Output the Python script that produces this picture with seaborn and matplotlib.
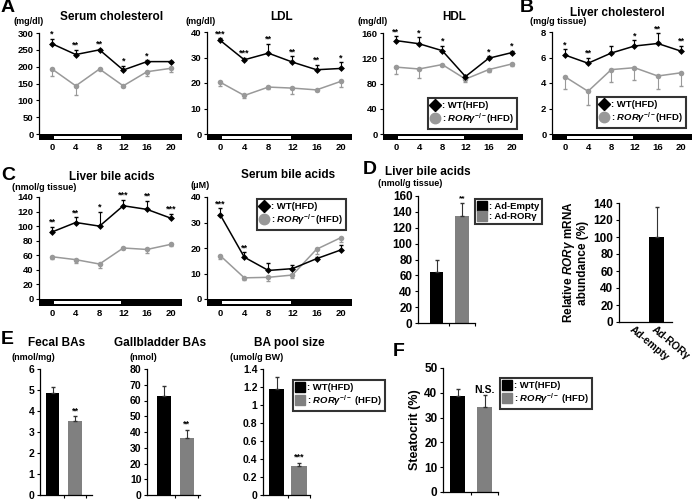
import numpy as np
import seaborn as sns
import matplotlib.pyplot as plt
from matplotlib.lines import Line2D
from matplotlib.patches import Rectangle

# ---- data ----
zt = [0, 4, 8, 12, 16, 20]

serum_chol_wt = [268, 236, 250, 190, 215, 215]
serum_chol_wt_err = [15, 14, 3, 13, 4, 3]
serum_chol_ko = [193, 143, 193, 143, 185, 195]
serum_chol_ko_err = [20, 27, 4, 4, 12, 12]
serum_chol_stars = ['*', '**', '**', '*', '*', '']

ldl_wt = [36.7, 29.1, 31.7, 28.2, 25.2, 25.7]
ldl_wt_err = [0.8, 0.8, 3.7, 2.3, 1.9, 2.5]
ldl_ko = [20.3, 15.1, 18.4, 18.0, 17.3, 20.6]
ldl_ko_err = [1.3, 0.8, 0.8, 2.3, 0.5, 2.0]
ldl_stars = ['***', '***', '**', '**', '**', '*']

hdl_wt = [148, 143, 132, 91, 120, 129]
hdl_wt_err = [7, 10, 8, 3, 3, 3]
hdl_ko = [106, 103, 110, 87, 102, 111]
hdl_ko_err = [11, 14, 3, 5, 3, 4]
hdl_stars = ['**', '*', '*', '', '*', '*']

liver_chol_wt = [6.2, 5.55, 6.35, 6.9, 7.1, 6.5]
liver_chol_wt_err = [0.45, 0.45, 0.55, 0.45, 0.8, 0.4]
liver_chol_ko = [4.5, 3.35, 5.05, 5.2, 4.55, 4.8]
liver_chol_ko_err = [0.95, 1.05, 0.95, 1.0, 1.0, 1.0]
liver_chol_stars = ['*', '**', '', '*', '**', '**']

liver_ba_wt = [92, 105, 100, 128, 123, 111]
liver_ba_wt_err = [7, 7, 20, 8, 12, 6]
liver_ba_ko = [58, 54, 48, 70, 68, 75]
liver_ba_ko_err = [3, 4, 6, 2, 5, 2]
liver_ba_stars = ['**', '**', '*', '***', '**', '***']

serum_ba_wt = [33.0, 16.4, 11.2, 11.9, 15.8, 19.2]
serum_ba_wt_err = [2.5, 2.0, 2.8, 1.3, 0.5, 1.8]
serum_ba_ko = [17.0, 8.3, 8.5, 9.4, 19.5, 24.0]
serum_ba_ko_err = [1.2, 0.8, 1.5, 1.2, 2.0, 1.5]
serum_ba_stars = ['***', '**', '', '', '', '']

ad_groups = ['Ad-Empty', 'Ad-ROR\u03b3']
ad_liver_ba = [64, 135]
ad_liver_ba_err = [15, 16]
ad_liver_ba_stars = ['', '**']

mrna_groups = ['Ad-empty', 'Ad-ROR\u03b3']
mrna_vals = [0, 100]
mrna_err = [0, 35]

geno = ['WT', 'KO']
fecal = [4.84, 3.54]
fecal_err = [0.32, 0.22]
gallbladder = [63, 36]
gallbladder_err = [6.5, 5.5]
ba_pool = [1.18, 0.32]
ba_pool_err = [0.13, 0.04]
steatocrit = [38.7, 34.3]
steatocrit_err = [3.0, 4.7]

KO_COL = '#999999'
BAR_COLS = ['black', '#808080']
W, H = 696, 500

sns.set_style('ticks')
plt.rcParams['font.family'] = ['Liberation Sans', 'DejaVu Sans']
plt.rcParams['font.weight'] = 'bold'
plt.rcParams['axes.labelweight'] = 'bold'
plt.rcParams['axes.edgecolor'] = 'black'
plt.rcParams['axes.linewidth'] = 0.9
plt.rcParams['xtick.color'] = 'black'
plt.rcParams['ytick.color'] = 'black'
plt.rcParams['text.color'] = 'black'
plt.rcParams['axes.labelcolor'] = 'black'
plt.rcParams['mathtext.fontset'] = 'custom'
plt.rcParams['mathtext.rm'] = 'Liberation Sans:bold'
plt.rcParams['mathtext.it'] = 'Liberation Sans:italic:bold'
plt.rcParams['mathtext.bf'] = 'Liberation Sans:bold'

fig = plt.figure(figsize=(W / 100, H / 100), dpi=100)

KO_LABEL = r': $\mathit{ROR\gamma}^{-/-}$(HFD)'


def px_axes(l, t, r, b):
    return fig.add_axes([l / W, 1 - b / H, (r - l) / W, (b - t) / H])


def ftext(x, y, s, size, ha='left'):
    fig.text(x / W, 1 - y / H, s, fontsize=size, ha=ha, va='center', fontweight='bold')


def time_panel(box, y0px, ymax, yticks, wt, wt_err, ko, ko_err, stars):
    l, t, r, b = box
    ax = px_axes(l, t, r, b)
    frac0 = (b - y0px) / (b - t)
    ylo = -frac0 / (1 - frac0) * ymax
    xlo, xhi = -2.2, 21.9
    zeros = np.zeros(len(zt))

    sns.lineplot(x=zt, y=ko, color=KO_COL, marker='o', markersize=4, linewidth=1.1,
                 markeredgewidth=0, ax=ax)
    ax.errorbar(zt, ko, yerr=[ko_err, zeros], fmt='none', ecolor=KO_COL, elinewidth=0.8, capsize=1.5)
    sns.lineplot(x=zt, y=wt, color='black', marker='D', markersize=3.5, linewidth=1.1,
                 markeredgewidth=0, ax=ax)
    ax.errorbar(zt, wt, yerr=[zeros, wt_err], fmt='none', ecolor='black', elinewidth=0.8, capsize=1.5)
    for x, v, e, s in zip(zt, wt, wt_err, stars):
        if s:
            ax.annotate(s, (x, v + e), xytext=(0, 0), textcoords='offset points',
                        ha='center', va='bottom', fontsize=6.5)

    ax.set_xlim(xlo, xhi)
    ax.set_ylim(ylo, ymax)
    ax.set_xticks(zt)
    ax.set_yticks(yticks)
    ax.set_xlabel('')
    ax.set_ylabel('')
    ax.spines[['top', 'right', 'bottom']].set_visible(False)
    ax.spines['left'].set_bounds(0, ymax)
    ax.tick_params(axis='x', length=0, pad=2.5, labelsize=6.8)
    ax.tick_params(axis='y', length=2.5, width=0.8, pad=1.5, labelsize=6.8)

    # light / dark bar under the axis
    tr = ax.get_xaxis_transform()
    ax.add_patch(Rectangle((xlo, 0), xhi - xlo, frac0, transform=tr, facecolor='black',
                           edgecolor='none', clip_on=False))
    ax.add_patch(Rectangle((0.3, frac0 * 0.25), 11.4, frac0 * 0.5, transform=tr,
                           facecolor='white', edgecolor='none'))
    return ax


def bar_panel(box, ymax, yticks, vals, errs, width, xlim, tick_size, stars=None,
              star_size=6.5, cats=geno, palette=BAR_COLS):
    l, t, r, b = box
    ax = px_axes(l, t, r, b)
    sns.barplot(x=cats, y=vals, hue=cats, palette=palette, width=width, legend=False,
                errorbar=None, saturation=1, edgecolor='none', ax=ax)
    xs = np.arange(len(vals))
    for x, v, e in zip(xs, vals, errs):
        if e > 0:
            ax.errorbar([x], [v], yerr=[[0], [e]], fmt='none', ecolor='#333333',
                        elinewidth=0.8, capsize=1.5)
    if stars:
        for x, v, e, s in zip(xs, vals, errs, stars):
            if s:
                ax.annotate(s, (x, v + e), xytext=(0, 0.5), textcoords='offset points',
                            ha='center', va='bottom', fontsize=star_size)
    ax.set_xlim(*xlim)
    ax.set_ylim(0, ymax)
    ax.set_yticks(yticks)
    ax.set_xticks([0.5, 1.5])
    ax.set_xticklabels(['', ''])
    ax.set_xlabel('')
    ax.set_ylabel('')
    ax.spines[['top', 'right']].set_visible(False)
    ax.tick_params(axis='x', length=2, width=0.8)
    ax.tick_params(axis='y', length=2.5, width=0.8, pad=1.5, labelsize=tick_size)
    return ax


def add_legend(l, t, handles, labels, size=6.8):
    leg = fig.legend(handles, labels, loc='upper left', bbox_to_anchor=(l / W, 1 - t / H),
                     bbox_transform=fig.transFigure, frameon=True, fancybox=False,
                     edgecolor='black', fontsize=size, handlelength=0.9, handletextpad=0.3,
                     borderpad=0.3, labelspacing=0.15, borderaxespad=0)
    leg.get_frame().set_linewidth(1.5)
    return leg


def line_handles():
    return [Line2D([], [], color='black', marker='D', markersize=6.5, linestyle='none'),
            Line2D([], [], color=KO_COL, marker='o', markersize=7.5, linestyle='none')]


def square_handles():
    return [Line2D([], [], color=c, marker='s', markersize=7, linestyle='none') for c in BAR_COLS]


# ---- row A / B ----
time_panel((39, 33, 182, 140), 134, 300, range(0, 301, 50),
           serum_chol_wt, serum_chol_wt_err, serum_chol_ko, serum_chol_ko_err, serum_chol_stars)
time_panel((207, 32, 352, 140), 134, 40, range(0, 41, 10),
           ldl_wt, ldl_wt_err, ldl_ko, ldl_ko_err, ldl_stars)
time_panel((383, 33, 523, 140), 134, 160, range(0, 161, 40),
           hdl_wt, hdl_wt_err, hdl_ko, hdl_ko_err, hdl_stars)
time_panel((552, 32, 692, 140), 134, 8, range(0, 9, 2),
           liver_chol_wt, liver_chol_wt_err, liver_chol_ko, liver_chol_ko_err, liver_chol_stars)
add_legend(428, 98, line_handles(), [': WT(HFD)', KO_LABEL])
add_legend(597, 97, line_handles(), [': WT(HFD)', KO_LABEL])

# ---- row C ----
time_panel((39, 197, 182, 306), 299, 140, range(0, 141, 20),
           liver_ba_wt, liver_ba_wt_err, liver_ba_ko, liver_ba_ko_err, liver_ba_stars)
time_panel((207, 197, 352, 306), 299, 40, range(0, 41, 10),
           serum_ba_wt, serum_ba_wt_err, serum_ba_ko, serum_ba_ko_err, serum_ba_stars)
add_legend(257, 199, line_handles(), [': WT(HFD)', KO_LABEL])

# ---- D ----
bar_panel((418, 196, 475, 323), 160, range(0, 161, 20), ad_liver_ba, ad_liver_ba_err,
          0.53, (-0.73, 1.51), 8.5, stars=ad_liver_ba_stars, star_size=6, cats=ad_groups)
add_legend(475, 199, square_handles(), [': Ad-Empty', ': Ad-ROR\u03b3'])

ax_m = bar_panel((619, 203, 672, 322), 140, range(0, 141, 20), mrna_vals, mrna_err,
                 0.67, (-0.67, 1.69), 8.5, cats=mrna_groups, palette=['black', 'black'])
ax_m.set_xticks([0, 1])
ax_m.set_xticklabels(mrna_groups, rotation=-40, ha='left', va='top',
                     rotation_mode='anchor', fontsize=7.5, fontweight='bold')
ax_m.tick_params(axis='x', length=0, pad=2)
ax_m.set_ylabel('Relative $\\mathit{ROR\\gamma}$ mRNA\nabundance (%)', fontsize=8.5,
                labelpad=3, linespacing=1.0)

# ---- E ----
bar_panel((40, 369, 92, 495), 6, range(0, 7), fecal, fecal_err, 0.6, (-0.56, 1.75), 7.5,
          stars=['', '**'])
bar_panel((147, 369, 200, 495), 80, range(0, 81, 10), gallbladder, gallbladder_err, 0.6,
          (-0.74, 1.57), 7.5, stars=['', '**'])
ax_p = bar_panel((263, 369, 310, 495), 1.4, [0, 0.2, 0.4, 0.6, 0.8, 1, 1.2, 1.4], ba_pool,
                 ba_pool_err, 0.7, (-0.61, 1.43), 7.5, stars=['', '***'])
ax_p.set_yticklabels(['0', '0.2', '0.4', '0.6', '0.8', '1', '1.2', '1.4'])
add_legend(293, 380, square_handles(), [': WT(HFD)', r': $\mathit{ROR\gamma}^{-/-}$ (HFD)'])

# ---- F ----
ax_f = bar_panel((443, 368, 498, 492), 50, range(0, 51, 10), steatocrit, steatocrit_err,
                 0.56, (-0.54, 1.5), 8.5, stars=['', 'N.S.'], star_size=7.5)
ax_f.set_ylabel('Steatocrit (%)', fontsize=9, labelpad=2)
add_legend(500, 378, square_handles(), [': WT(HFD)', r': $\mathit{ROR\gamma}^{-/-}$ (HFD)'])

# ---- titles, units and panel letters ----
ftext(1, 8, 'A', 14)
ftext(112, 17, 'Serum cholesterol', 8.5, ha='center')
ftext(13, 22, '(mg/dl)', 6.5)
ftext(282, 17, 'LDL', 8.5, ha='center')
ftext(185, 22, '(mg/dl)', 6.5)
ftext(454, 17, 'HDL', 8.5, ha='center')
ftext(357, 22, '(mg/dl)', 6.5)
ftext(520, 8, 'B', 14)
ftext(617, 13, 'Liver cholesterol', 8.5, ha='center')
ftext(530, 22, '(mg/g tissue)', 6.5)

ftext(1, 176, 'C', 14)
ftext(112, 177, 'Liver bile acids', 8.5, ha='center')
ftext(12, 187, '(nmol/g tissue)', 6.5)
ftext(288, 175, 'Serum bile acids', 8.5, ha='center')
ftext(190, 186, '(\u03bcM)', 6.5)
ftext(363, 169, 'D', 14)
ftext(385, 172, 'Liver bile acids', 8.5)
ftext(378, 183, '(nmol/g tissue)', 6.5)

ftext(1, 340, 'E', 14)
ftext(57, 343, 'Fecal BAs', 8.5, ha='center')
ftext(12, 357, '(nmol/mg)', 6.5)
ftext(160, 343, 'Gallbladder BAs', 8.5, ha='center')
ftext(130, 357, '(nmol)', 6.5)
ftext(289, 343, 'BA pool size', 8.5, ha='center')
ftext(230, 357, '(umol/g BW)', 6.5)
ftext(393, 351, 'F', 14)

fig.savefig('out.png', dpi=100)
plt.close(fig)
